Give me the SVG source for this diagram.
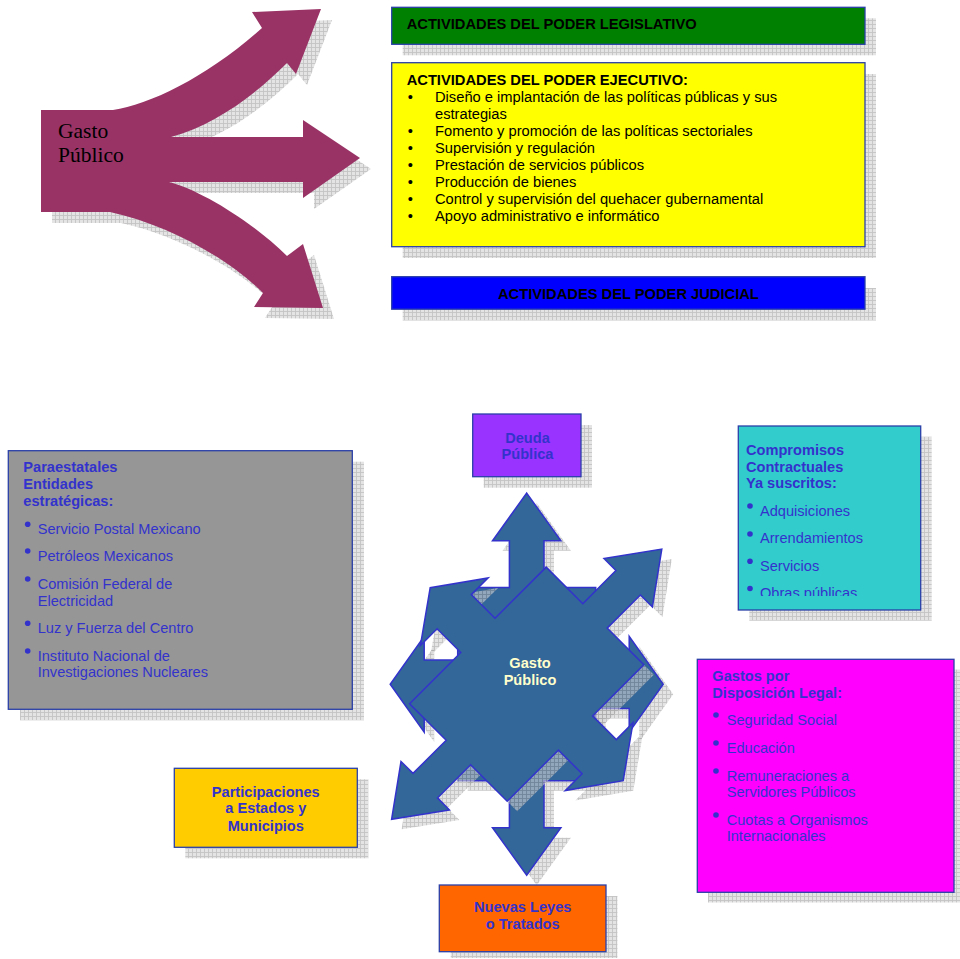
<svg xmlns="http://www.w3.org/2000/svg" width="960" height="959" viewBox="0 0 960 959">
<style>
.bt{font-family:"Liberation Sans",Arial,sans-serif;font-weight:bold;font-size:14.7px;fill:#000}
.it{font-family:"Liberation Sans",Arial,sans-serif;font-size:14.7px;fill:#000}
.bh{font-family:"Liberation Sans",Arial,sans-serif;font-weight:bold;font-size:14.6px;fill:#3333cc}
.bi{font-family:"Liberation Sans",Arial,sans-serif;font-size:14.6px;fill:#3333cc}
.box{stroke:#2a3fa8;stroke-width:1.3}
.shadow{fill:url(#hatch);opacity:0.6}
.star{fill:#336699;stroke:#3333cc;stroke-width:1.5;stroke-linejoin:miter}
.dot{fill:#3333cc}
.ctr{fill:#ffffcc}
</style>
<defs>
<pattern id="hatch" width="4" height="4" patternUnits="userSpaceOnUse">
<rect width="4" height="4" fill="#d2d2d2"/>
<path d="M0,0.5H4M0.5,0V4" stroke="#9c9c9c" stroke-width="0.9"/>
</pattern>
<path id="magArrow" d="M41,110 L113,110 C150,105 210,75 262,28 L252,12 L321,9 L296,74 L287,63 C255,95 215,125 171,137 L303,137 L303,120 L360,158 L303,198 L303,182 L169,182 C200,190 250,220 287,256 L303,244 L323,308 L254,307 L263,293 C230,260 170,225 110,212 L41,212 Z"/>
<polygon id="starY" points="526.7,493.1 560.9,540.7 544,540.7 544,587.6 595.7,587.6 595.7,660 629.2,660 629.2,636.3 663.2,684.2 629.2,732.1 629.2,708.4 595.7,708.4 595.7,780.8 544,780.8 544,827.7 560.9,827.7 526.7,875.3 492.5,827.7 509.4,827.7 509.4,780.8 457.7,780.8 457.7,708.4 424.2,708.4 424.2,732.1 390.2,684.2 424.2,636.3 424.2,660 457.7,660 457.7,587.6 509.4,587.6 509.4,540.7 492.5,540.7"/>
<polygon id="starX" points="661.8,549.1 652.4,606.9 640.4,595 607.2,628.1 643.8,664.7 592.6,715.9 616.3,739.6 633,722.8 623.2,780.7 565.3,790.5 582.1,773.8 558.4,750.1 507.2,801.3 470.6,764.7 437.5,797.9 449.4,809.9 391.6,819.3 401,761.5 413,773.4 446.2,740.3 409.6,703.7 460.8,652.5 437.1,628.8 420.4,645.6 430.2,587.7 488.1,577.9 471.3,594.6 495,618.3 546.2,567.1 582.8,603.7 615.9,570.5 604,558.5"/>
<clipPath id="clipComp"><rect x="738" y="426" width="183" height="170"/></clipPath>
</defs>
<rect width="960" height="959" fill="#ffffff"/>

<g id="connectors">
<use href="#magArrow" class="shadow" transform="translate(11,11)"/>
<use href="#magArrow" fill="#993366"/>
<use href="#starY" class="shadow" transform="translate(10,10)"/>
<use href="#starY" class="star"/>
<use href="#starX" class="shadow" transform="translate(10,10)"/>
<use href="#starX" class="star"/>
</g>

<g id="node-gasto-publico-top">
<text x="58" y="137.7" font-family="'Liberation Serif','Times New Roman',serif" font-size="21.5" fill="#000">Gasto</text>
<text x="58" y="162.3" font-family="'Liberation Serif','Times New Roman',serif" font-size="21.5" fill="#000">Público</text>
</g>

<g id="node-legislativo">
<rect x="402.7" y="18.3" width="473.3" height="37" class="shadow"/>
<rect x="391.7" y="7.3" width="473.3" height="37" fill="#008000" class="box"/>
<text x="406.7" y="29.3" class="bt">ACTIVIDADES DEL PODER LEGISLATIVO</text>
</g>

<g id="node-ejecutivo">
<rect x="402.7" y="74" width="473.3" height="184" class="shadow"/>
<rect x="391.7" y="62.7" width="473.3" height="184" fill="#ffff00" class="box"/>
<text x="406.7" y="85" class="bt">ACTIVIDADES DEL PODER EJECUTIVO:</text>
<g class="it">
<text x="407.7" y="101.7">•</text><text x="435" y="101.7">Diseño e implantación de las políticas públicas y sus</text>
<text x="435" y="118.7">estrategias</text>
<text x="407.7" y="135.7">•</text><text x="435" y="135.7">Fomento y promoción de las políticas sectoriales</text>
<text x="407.7" y="152.7">•</text><text x="435" y="152.7">Supervisión y regulación</text>
<text x="407.7" y="169.7">•</text><text x="435" y="169.7">Prestación de servicios públicos</text>
<text x="407.7" y="186.7">•</text><text x="435" y="186.7">Producción de bienes</text>
<text x="407.7" y="203.7">•</text><text x="435" y="203.7">Control y supervisión del quehacer gubernamental</text>
<text x="407.7" y="220.7">•</text><text x="435" y="220.7">Apoyo administrativo e informático</text>
</g>
</g>

<g id="node-judicial">
<rect x="402.7" y="288" width="473.3" height="32.5" class="shadow"/>
<rect x="391.7" y="276.7" width="473.3" height="32.5" fill="#0000ff" class="box"/>
<text x="628.4" y="299" class="bt" text-anchor="middle">ACTIVIDADES DEL PODER JUDICIAL</text>
</g>

<g id="node-paraestatales">
<rect x="20" y="461.7" width="344" height="258.6" class="shadow"/>
<rect x="8.3" y="450.7" width="344" height="258.6" fill="#969696" class="box"/>
<text x="23.3" y="472.3" class="bh">Paraestatales</text>
<text x="23.3" y="489.3" class="bh">Entidades</text>
<text x="23.3" y="505.7" class="bh">estratégicas:</text>
<circle cx="27.7" cy="524.3" r="2.8" class="dot"/><text x="37.7" y="534.3" class="bi">Servicio Postal Mexicano</text>
<circle cx="27.7" cy="551" r="2.8" class="dot"/><text x="37.7" y="561" class="bi">Petróleos Mexicanos</text>
<circle cx="27.7" cy="579" r="2.8" class="dot"/><text x="37.7" y="589" class="bi">Comisión Federal de</text>
<text x="37.7" y="605.7" class="bi">Electricidad</text>
<circle cx="27.7" cy="623.3" r="2.8" class="dot"/><text x="37.7" y="633.3" class="bi">Luz y Fuerza del Centro</text>
<circle cx="27.7" cy="651" r="2.8" class="dot"/><text x="37.7" y="661" class="bi">Instituto Nacional de</text>
<text x="37.7" y="677.3" class="bi">Investigaciones Nucleares</text>
</g>

<g id="node-deuda">
<rect x="483.7" y="425" width="108.3" height="62.7" class="shadow"/>
<rect x="472.7" y="414" width="108.3" height="62.7" fill="#9933ff" class="box"/>
<text x="527.5" y="442.7" class="bh" text-anchor="middle">Deuda</text>
<text x="527.5" y="459.3" class="bh" text-anchor="middle">Pública</text>
</g>

<g id="node-compromisos">
<rect x="749.3" y="436.7" width="182.4" height="184" class="shadow"/>
<rect x="738.3" y="426" width="182.4" height="184" fill="#33cccc" class="box"/>
<g clip-path="url(#clipComp)">
<text x="746" y="455" class="bh">Compromisos</text>
<text x="746" y="471.7" class="bh">Contractuales</text>
<text x="746" y="488.3" class="bh">Ya suscritos:</text>
<circle cx="750" cy="506" r="2.8" class="dot"/><text x="760" y="515.7" class="bi">Adquisiciones</text>
<circle cx="750" cy="534" r="2.8" class="dot"/><text x="760" y="543.3" class="bi">Arrendamientos</text>
<circle cx="750" cy="561.3" r="2.8" class="dot"/><text x="760" y="571" class="bi">Servicios</text>
<circle cx="750" cy="588.5" r="2.8" class="dot"/><text x="760" y="598.3" class="bi">Obras públicas</text>
</g>
</g>

<g id="node-disposicion-legal">
<rect x="708" y="669.5" width="256.7" height="233" class="shadow"/>
<rect x="697.3" y="659.3" width="256.7" height="233" fill="#ff00ff" class="box"/>
<text x="712.3" y="681" class="bh">Gastos por</text>
<text x="712.3" y="697.7" class="bh">Disposición Legal:</text>
<circle cx="716" cy="715" r="2.8" class="dot"/><text x="726.7" y="725" class="bi">Seguridad Social</text>
<circle cx="716" cy="743" r="2.8" class="dot"/><text x="726.7" y="752.7" class="bi">Educación</text>
<circle cx="716" cy="771" r="2.8" class="dot"/><text x="726.7" y="780.7" class="bi">Remuneraciones a</text>
<text x="726.7" y="796.7" class="bi">Servidores Públicos</text>
<circle cx="716" cy="815" r="2.8" class="dot"/><text x="726.7" y="825" class="bi">Cuotas a Organismos</text>
<text x="726.7" y="841" class="bi">Internacionales</text>
</g>

<g id="node-participaciones">
<rect x="185.3" y="779.3" width="183" height="79" class="shadow"/>
<rect x="174.3" y="768.3" width="183" height="79" fill="#ffcc00" class="box"/>
<text x="265.8" y="796.7" class="bh" text-anchor="middle">Participaciones</text>
<text x="265.8" y="813.3" class="bh" text-anchor="middle">a Estados y</text>
<text x="265.8" y="830.7" class="bh" text-anchor="middle">Municipios</text>
</g>

<g id="node-nuevas-leyes">
<rect x="450.7" y="896" width="166.7" height="62" class="shadow"/>
<rect x="439.3" y="885" width="166.7" height="66.7" fill="#ff6600" class="box"/>
<text x="522.7" y="912.3" class="bh" text-anchor="middle">Nuevas Leyes</text>
<text x="522.7" y="929.3" class="bh" text-anchor="middle">o Tratados</text>
</g>

<g id="node-gasto-publico-centro">
<text x="530" y="668.3" class="bh ctr" text-anchor="middle" style="fill:#ffffcc">Gasto</text>
<text x="530" y="685" class="bh ctr" text-anchor="middle" style="fill:#ffffcc">Público</text>
</g>
</svg>
